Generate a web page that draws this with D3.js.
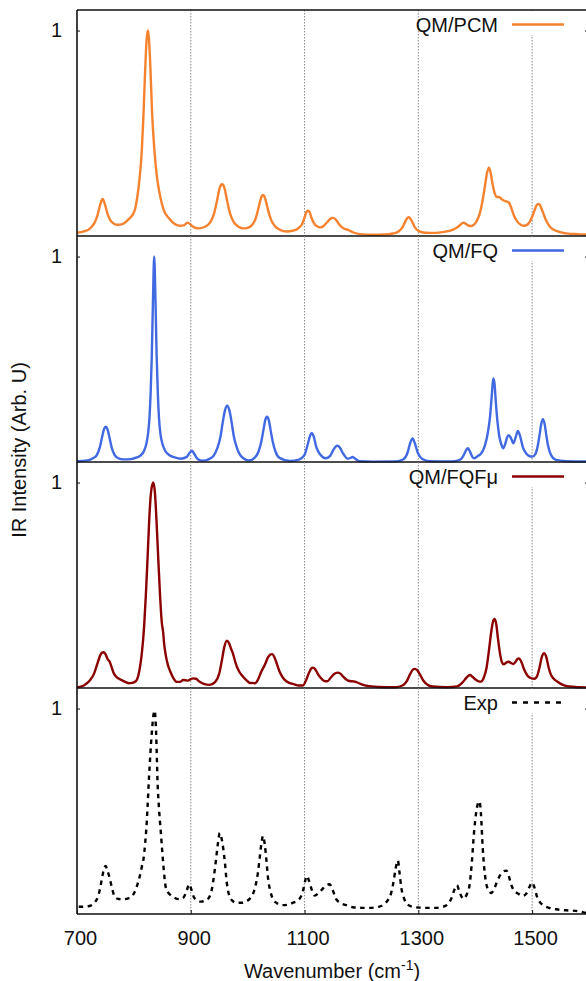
<!DOCTYPE html>
<html>
<head>
<meta charset="utf-8">
<script src="https://cdn.jsdelivr.net/npm/d3@7"></script>
<style>
body {margin:0; background:white;}
text {font-family:"Liberation Sans", Arial, sans-serif; fill:#111;}
</style>
</head>
<body>
<svg id="chart"></svg>
<script>
var screen = {width:586,height:981}
var plot = {left:77,right:589,top:10,panelHeight:226}

// wavenumber (cm-1), intensity
var pcmSpectrum = [[700,0.016],[712,0.022],[722,0.035],[730,0.06],[736,0.1],[740,0.145],[743,0.172],[745,0.18],[747,0.172],[750,0.145],[754,0.105],[759,0.075],[765,0.06],[771,0.055],[780,0.058],[790,0.08],[797,0.1],[802,0.13],[806,0.19],[810,0.28],[814,0.42],[817,0.6],[820,0.82],[822.5,0.96],[824.5,1.0],[826.5,0.96],[829,0.82],[832,0.6],[836,0.42],[840,0.3],[845,0.21],[852,0.13],[862,0.085],[870,0.062],[880,0.05],[888,0.052],[894,0.065],[898,0.06],[904,0.045],[913,0.037],[925,0.045],[935,0.07],[941,0.11],[946,0.17],[950,0.225],[953,0.248],[955,0.252],[957,0.248],[960,0.225],[964,0.17],[969,0.11],[975,0.07],[984,0.045],[993,0.037],[1000,0.04],[1008,0.055],[1014,0.085],[1018,0.125],[1022,0.17],[1025,0.195],[1027,0.2],[1029,0.195],[1032,0.17],[1036,0.125],[1041,0.08],[1048,0.048],[1057,0.03],[1068,0.022],[1080,0.026],[1090,0.04],[1096,0.06],[1100,0.09],[1103,0.115],[1106,0.124],[1109,0.115],[1112,0.09],[1117,0.06],[1122,0.047],[1128,0.042],[1134,0.05],[1140,0.068],[1145,0.083],[1150,0.088],[1155,0.08],[1160,0.06],[1166,0.042],[1172,0.033],[1178,0.028],[1186,0.017],[1198,0.009],[1220,0.006],[1240,0.007],[1255,0.012],[1265,0.022],[1272,0.042],[1277,0.07],[1280,0.085],[1283,0.091],[1286,0.085],[1289,0.07],[1294,0.042],[1301,0.024],[1312,0.016],[1330,0.015],[1345,0.02],[1360,0.03],[1370,0.045],[1376,0.06],[1380,0.065],[1384,0.058],[1389,0.05],[1393,0.049],[1398,0.055],[1404,0.08],[1409,0.12],[1414,0.19],[1418,0.26],[1421,0.31],[1424,0.333],[1427,0.31],[1430,0.26],[1434,0.21],[1438,0.19],[1442,0.19],[1446,0.18],[1450,0.173],[1455,0.168],[1459,0.163],[1463,0.14],[1468,0.1],[1474,0.07],[1480,0.055],[1486,0.05],[1491,0.054],[1496,0.07],[1501,0.1],[1505,0.13],[1508,0.15],[1511,0.156],[1514,0.15],[1517,0.13],[1521,0.1],[1526,0.068],[1533,0.04],[1545,0.022],[1560,0.013],[1580,0.009],[1600,0.007]]

var fqSpectrum = [[700,0.004],[718,0.008],[728,0.018],[735,0.035],[740,0.07],[744,0.12],[747.5,0.16],[750.5,0.172],[753.5,0.16],[757,0.12],[761,0.07],[766,0.035],[773,0.018],[781,0.013],[795,0.014],[805,0.022],[812,0.032],[818,0.055],[822,0.09],[825,0.14],[827.5,0.22],[829.5,0.34],[831.5,0.52],[833.5,0.78],[835.7,1.0],[838,0.78],[840,0.52],[842,0.34],[844,0.22],[846.5,0.14],[850,0.09],[855,0.055],[862,0.034],[872,0.022],[882,0.016],[893,0.025],[898,0.045],[902,0.055],[906,0.04],[912,0.015],[921,0.006],[932,0.014],[940,0.03],[947,0.07],[952,0.12],[956,0.19],[960,0.25],[964,0.274],[968,0.25],[972,0.19],[976,0.12],[981,0.07],[988,0.03],[1003,0.007],[1012,0.02],[1019,0.05],[1024,0.1],[1028,0.16],[1031,0.205],[1034,0.22],[1037,0.205],[1040,0.16],[1044,0.1],[1049,0.05],[1056,0.02],[1074,0.005],[1090,0.012],[1100,0.035],[1106,0.09],[1110,0.13],[1113,0.141],[1116,0.125],[1121,0.07],[1128,0.035],[1137,0.018],[1145,0.03],[1151,0.06],[1155,0.076],[1158,0.079],[1162,0.07],[1168,0.04],[1176,0.016],[1181,0.02],[1184,0.024],[1188,0.018],[1196,0.004],[1220,0.002],[1260,0.003],[1273,0.012],[1281,0.045],[1286,0.095],[1290,0.115],[1294,0.09],[1299,0.045],[1307,0.015],[1320,0.004],[1360,0.003],[1374,0.012],[1381,0.04],[1385,0.062],[1387,0.067],[1390,0.055],[1395,0.025],[1398,0.018],[1405,0.03],[1410,0.04],[1417,0.08],[1422,0.14],[1426,0.22],[1429,0.32],[1431,0.39],[1432,0.407],[1434,0.38],[1436,0.3],[1439,0.2],[1442,0.13],[1446,0.085],[1449,0.067],[1453,0.09],[1456,0.12],[1459,0.131],[1463,0.115],[1467,0.091],[1471,0.12],[1475,0.151],[1479,0.125],[1484,0.07],[1490,0.04],[1496,0.028],[1500,0.026],[1506,0.04],[1510,0.08],[1513,0.13],[1516,0.185],[1519,0.208],[1522,0.185],[1525,0.13],[1528,0.08],[1533,0.035],[1542,0.01],[1560,0.004],[1600,0.002]]

var fqfmuSpectrum = [[700,0.003],[712,0.012],[722,0.035],[730,0.07],[736,0.12],[741,0.16],[744,0.172],[747,0.174],[750,0.165],[754,0.14],[757.5,0.128],[761,0.1],[765,0.07],[769,0.055],[774,0.045],[779,0.038],[785,0.03],[791,0.023],[797,0.025],[804,0.035],[810,0.09],[814,0.17],[818,0.3],[821,0.45],[824,0.63],[827,0.82],[830,0.95],[834,1.0],[837,0.95],[840,0.8],[843,0.62],[846,0.45],[849,0.32],[851.5,0.27],[853,0.22],[856,0.16],[860,0.11],[864,0.08],[869,0.05],[875,0.03],[881,0.03],[887,0.039],[891,0.038],[895,0.036],[900,0.043],[904,0.047],[909,0.045],[915,0.032],[923,0.02],[933,0.015],[943,0.03],[950,0.07],[955,0.14],[959,0.2],[963.5,0.23],[967,0.22],[971,0.19],[974,0.169],[979,0.12],[985,0.08],[992,0.055],[999,0.035],[1004,0.024],[1008,0.025],[1013,0.023],[1018,0.04],[1024,0.08],[1030,0.112],[1036,0.15],[1040,0.163],[1043,0.165],[1047,0.15],[1051,0.12],[1056,0.08],[1062,0.05],[1068,0.033],[1073,0.025],[1082,0.018],[1090,0.012],[1097,0.012],[1103,0.04],[1108,0.075],[1112,0.095],[1115,0.099],[1119,0.09],[1124,0.065],[1131,0.042],[1136,0.033],[1140,0.033],[1146,0.05],[1152,0.068],[1158,0.075],[1163,0.07],[1168,0.055],[1174,0.04],[1179,0.034],[1186,0.032],[1191,0.029],[1198,0.02],[1206,0.013],[1214,0.009],[1230,0.005],[1260,0.004],[1272,0.012],[1280,0.035],[1286,0.07],[1290,0.088],[1294,0.093],[1298,0.087],[1303,0.065],[1309,0.035],[1316,0.016],[1325,0.007],[1350,0.004],[1368,0.008],[1377,0.025],[1384,0.048],[1388,0.06],[1391,0.063],[1395,0.055],[1401,0.04],[1406,0.032],[1410,0.031],[1415,0.05],[1420,0.1],[1424,0.18],[1428,0.27],[1431,0.32],[1434,0.336],[1437,0.31],[1440,0.24],[1444,0.16],[1447,0.125],[1450,0.115],[1455,0.125],[1459,0.128],[1463,0.121],[1467,0.117],[1471,0.128],[1474,0.14],[1477,0.144],[1481,0.128],[1486,0.09],[1492,0.06],[1498,0.048],[1504,0.045],[1509,0.06],[1513,0.1],[1517,0.15],[1521,0.169],[1525,0.15],[1529,0.1],[1533,0.065],[1538,0.045],[1546,0.028],[1554,0.015],[1565,0.007],[1580,0.004],[1600,0.003]]

var expSpectrum = [[703,0.035],[715,0.036],[725,0.042],[732,0.06],[737,0.085],[741,0.13],[745,0.19],[748,0.225],[750.5,0.234],[753,0.215],[757.5,0.174],[762,0.12],[766,0.087],[773,0.073],[781,0.072],[790,0.076],[796,0.085],[801,0.105],[805,0.133],[810,0.18],[814,0.23],[817,0.27],[820,0.35],[822,0.42],[824,0.52],[826.5,0.66],[829,0.78],[832,0.9],[834.5,0.97],[836.3,0.99],[838,0.95],[840,0.8],[841.5,0.65],[844,0.52],[847,0.41],[850,0.3],[853,0.2],[856,0.13],[860,0.105],[864,0.093],[872,0.078],[880,0.072],[887,0.08],[893,0.115],[897,0.145],[901,0.12],[905,0.084],[912,0.065],[918,0.06],[925,0.065],[932,0.08],[937,0.12],[941,0.19],[945,0.28],[948,0.35],[951,0.394],[954,0.37],[957,0.32],[960,0.25],[963,0.16],[967,0.095],[973,0.065],[980,0.055],[990,0.055],[998,0.062],[1004,0.075],[1009,0.095],[1014,0.14],[1018,0.2],[1021,0.27],[1024,0.34],[1027,0.38],[1030,0.34],[1033,0.26],[1036,0.17],[1040,0.11],[1045,0.07],[1053,0.05],[1062,0.043],[1070,0.045],[1080,0.055],[1090,0.07],[1097,0.11],[1101,0.16],[1104,0.185],[1108,0.16],[1113,0.115],[1118,0.09],[1124,0.1],[1131,0.12],[1138,0.14],[1144,0.145],[1149,0.12],[1155,0.075],[1162,0.055],[1173,0.043],[1185,0.033],[1200,0.03],[1215,0.03],[1230,0.035],[1240,0.048],[1247,0.07],[1252,0.1],[1256,0.15],[1260,0.22],[1264,0.26],[1267,0.2],[1270,0.13],[1275,0.075],[1281,0.047],[1290,0.035],[1302,0.031],[1315,0.03],[1330,0.03],[1343,0.035],[1352,0.048],[1358,0.075],[1363,0.115],[1368,0.14],[1372,0.11],[1377,0.08],[1380,0.074],[1385,0.095],[1390,0.14],[1394,0.25],[1398,0.4],[1402,0.5],[1405,0.54],[1407.5,0.548],[1410,0.49],[1413,0.33],[1416,0.22],[1420,0.14],[1425,0.11],[1428,0.102],[1433,0.12],[1438,0.155],[1442,0.18],[1447,0.2],[1452,0.21],[1455,0.211],[1459,0.185],[1463,0.145],[1468,0.115],[1475,0.1],[1483,0.088],[1490,0.1],[1495,0.13],[1500,0.153],[1504,0.13],[1508,0.09],[1513,0.06],[1520,0.042],[1530,0.03],[1545,0.022],[1560,0.018],[1577,0.015],[1590,0.008],[1600,0.003]]

var seriesNames = ["QM/PCM","QM/FQ","QM/FQF\u03bc","Exp"]
var seriesColors = ["#f5822e","#4169e1","#8b0000","#000000"]
var seriesDash = [null,null,null,"4.5,4.5"]
var spectra = [pcmSpectrum,fqSpectrum,fqfmuSpectrum,expSpectrum]

var xTicks = [700,900,1100,1300,1500]
var gridTicks = [900,1100,1300,1500]
var yTicks = [1]

var svg = d3.select("#chart")
    .attr("width",screen.width)
    .attr("height",screen.height)

var xScale = d3.scaleLinear()
    .domain([700,1600])
    .range([plot.left,plot.right])

var drawPanel = function(index)
{
    var top = plot.top + index*plot.panelHeight
    var bottom = top + plot.panelHeight
    var yScale = d3.scaleLinear()
        .domain([0,1.1])
        .range([bottom,top])

    var g = svg.append("g").attr("class","panel")

    // dotted grid
    g.selectAll(".grid")
     .data(gridTicks)
     .enter()
     .append("line")
     .attr("x1",function(d){return xScale(d)})
     .attr("x2",function(d){return xScale(d)})
     .attr("y1",top)
     .attr("y2",bottom)
     .attr("stroke","#888")
     .attr("stroke-width",1)
     .attr("stroke-dasharray","1.5,1.5")

    var curve = d3.line()
        .x(function(d){return xScale(d[0])})
        .y(function(d){return yScale(d[1])})
        .curve(d3.curveMonotoneX)

    g.append("path")
     .datum(spectra[index])
     .attr("d",curve)
     .attr("fill","none")
     .attr("stroke",seriesColors[index])
     .attr("stroke-width",2.4)
     .attr("stroke-dasharray",seriesDash[index])

    // legend
    var ly = top + 14.5
    g.append("rect")
     .attr("x",503).attr("y",top+1)
     .attr("width",80).attr("height",24)
     .attr("fill","white")
    g.append("text")
     .attr("x",498)
     .attr("y",ly)
     .attr("dy","0.35em")
     .attr("text-anchor","end")
     .style("font-size","20px")
     .text(seriesNames[index])
    g.append("line")
     .attr("x1",512).attr("x2",564)
     .attr("y1",ly).attr("y2",ly)
     .attr("stroke",seriesColors[index])
     .attr("stroke-width",2.4)
     .attr("stroke-dasharray",seriesDash[index] ? "5,6" : null)

    var yAxis = d3.axisLeft(yScale)
        .tickValues(yTicks)
        .tickFormat(d3.format("d"))
        .tickSizeInner(-3)
        .tickSizeOuter(0)
        .tickPadding(15)
    var ya = g.append("g")
     .attr("transform","translate("+plot.left+",0)")
     .call(yAxis)
    ya.select(".domain").remove()
    ya.selectAll("text").style("font-size","20px").attr("fill","#111").attr("font-family",null)
    ya.selectAll("line").attr("stroke","#111")

    var yRight = d3.axisRight(yScale)
        .tickValues(yTicks)
        .tickFormat("")
        .tickSizeInner(-4)
        .tickSizeOuter(0)
    var yr = g.append("g")
     .attr("transform","translate("+plot.right+",0)")
     .call(yRight)
    yr.select(".domain").remove()

    // frame lines
    g.append("line")
     .attr("x1",plot.left).attr("x2",plot.right)
     .attr("y1",bottom).attr("y2",bottom)
     .attr("stroke","#111").attr("stroke-width",1.6)
    if(index==0)
    {
        g.append("line")
         .attr("x1",plot.left).attr("x2",plot.right)
         .attr("y1",top).attr("y2",top)
         .attr("stroke","#111").attr("stroke-width",1.6)
    }
    return bottom
}

var lastBottom = 0
for(var i=0;i<4;i++){lastBottom = drawPanel(i)}

// left frame
svg.append("line")
   .attr("x1",plot.left).attr("x2",plot.left)
   .attr("y1",plot.top).attr("y2",lastBottom)
   .attr("stroke","#111").attr("stroke-width",1.6)

var xAxis = d3.axisBottom(xScale)
    .tickValues(xTicks)
    .tickFormat(d3.format("d"))
    .tickSizeInner(-4)
    .tickSizeOuter(0)
    .tickPadding(17)
var xa = svg.append("g")
   .attr("transform","translate(0,"+lastBottom+")")
   .call(xAxis)
xa.select(".domain").remove()
xa.selectAll("text").style("font-size","20px").attr("fill","#111").attr("dx",3).attr("font-family",null)
xa.selectAll("line").attr("stroke","#111")

var xTitle = svg.append("text")
   .attr("x",332)
   .attr("y",978)
   .attr("text-anchor","middle")
   .style("font-size","20px")
xTitle.append("tspan").text("Wavenumber (cm")
xTitle.append("tspan").attr("dy",-8).style("font-size","14px").text("-1")
xTitle.append("tspan").attr("dy",8).text(")")

svg.append("text")
   .attr("transform","translate(26,450) rotate(-90)")
   .attr("text-anchor","middle")
   .style("font-size","20px")
   .text("IR Intensity (Arb. U)")
</script>
</body>
</html>
